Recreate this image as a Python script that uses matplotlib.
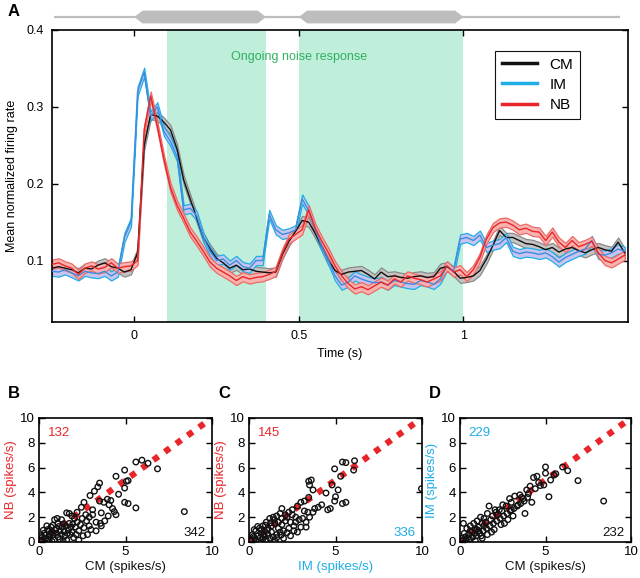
#Recreates the firing-rate figure: PSTH on top (A) and three scatter comparisons below (B, C, D)

import numpy as np
import matplotlib
matplotlib.use("Agg")
import matplotlib.pyplot as plt
from matplotlib.patches import Polygon

plt.rcParams['font.family'] = ['Liberation Sans', 'DejaVu Sans']

#region DATA

#Time bins (s) of the mean normalized firing rate, 20 ms apart
timeBins = np.round(np.arange(-0.25, 1.50, 0.02), 2)

cmRate = [0.090, 0.092, 0.090, 0.088, 0.084, 0.090, 0.089, 0.094, 0.097, 0.092, 0.090, 0.085, 0.088,
          0.110, 0.250, 0.290, 0.288, 0.280, 0.270, 0.245, 0.205, 0.180, 0.155, 0.130, 0.115, 0.103,
          0.097, 0.090, 0.094, 0.088, 0.089, 0.086, 0.085, 0.084, 0.085, 0.108, 0.125, 0.138, 0.152,
          0.150, 0.135, 0.118, 0.100, 0.087, 0.082, 0.085, 0.086, 0.087, 0.082, 0.076, 0.085, 0.079,
          0.080, 0.078, 0.077, 0.079, 0.080, 0.078, 0.079, 0.090, 0.092, 0.086, 0.077, 0.078, 0.080,
          0.087, 0.102, 0.120, 0.139, 0.130, 0.130, 0.126, 0.122, 0.121, 0.118, 0.114, 0.117, 0.111,
          0.115, 0.117, 0.113, 0.110, 0.114, 0.117, 0.114, 0.112, 0.124, 0.110]
imRate = [0.086, 0.085, 0.088, 0.084, 0.080, 0.086, 0.084, 0.083, 0.086, 0.080, 0.085, 0.130, 0.150,
          0.320, 0.345, 0.288, 0.300, 0.268, 0.255, 0.235, 0.166, 0.168, 0.158, 0.130, 0.112, 0.100,
          0.102, 0.094, 0.100, 0.092, 0.090, 0.100, 0.100, 0.160, 0.140, 0.134, 0.136, 0.140, 0.180,
          0.165, 0.140, 0.118, 0.100, 0.080, 0.068, 0.072, 0.080, 0.076, 0.073, 0.071, 0.072, 0.068,
          0.074, 0.072, 0.070, 0.069, 0.074, 0.072, 0.069, 0.076, 0.093, 0.086, 0.128, 0.130, 0.126,
          0.133, 0.117, 0.120, 0.122, 0.130, 0.112, 0.109, 0.111, 0.110, 0.108, 0.110, 0.105, 0.098,
          0.104, 0.108, 0.112, 0.115, 0.126, 0.108, 0.107, 0.110, 0.115, 0.112]
nbRate = [0.095, 0.097, 0.093, 0.090, 0.082, 0.090, 0.093, 0.089, 0.091, 0.097, 0.090, 0.092, 0.093,
          0.100, 0.270, 0.314, 0.275, 0.232, 0.195, 0.172, 0.155, 0.137, 0.125, 0.112, 0.098, 0.090,
          0.085, 0.080, 0.074, 0.079, 0.076, 0.078, 0.079, 0.082, 0.086, 0.110, 0.128, 0.134, 0.140,
          0.166, 0.142, 0.125, 0.110, 0.093, 0.080, 0.070, 0.063, 0.066, 0.062, 0.067, 0.072, 0.068,
          0.076, 0.072, 0.080, 0.077, 0.075, 0.072, 0.076, 0.080, 0.093, 0.085, 0.088, 0.079, 0.088,
          0.104, 0.128, 0.143, 0.149, 0.150, 0.146, 0.140, 0.142, 0.138, 0.137, 0.126, 0.137, 0.124,
          0.117, 0.126, 0.118, 0.121, 0.125, 0.110, 0.100, 0.097, 0.102, 0.107]
semWidth = 0.006 #Half width of the shaded error band

responseWindows = [(0.1, 0.4), (0.5, 1.0)] #Green "ongoing noise" windows (s)
stimulusBlocks = [(0.0, 0.4), (0.5, 1.0)] #Gray noise blocks drawn above panel A

#Scatter panels: (x, y) firing rates in spikes/s
cmVsNb = [(8.4,2.45),(6.85,5.9),(6.3,6.35),(5.95,6.6),(5.6,6.45),(5.15,4.95),(5.05,4.9),(4.95,5.8),(4.45,5.3),
          (4.95,4.35),(4.6,3.85),(4.95,3.2),(5.15,3.1),(5.6,2.75),(4.45,2.2),(4.35,2.45),(4.25,2.7),(4.15,3.35),
          (4.05,3.0),(3.95,3.45),(3.75,3.2),(3.5,3.3),(3.5,4.75),(3.4,4.45),(3.2,4.1),(2.95,3.75),(2.6,3.2),
          (3.6,2.35),(3.55,1.5),(3.6,1.3),(3.3,1.6),(2.9,2.0),(2.75,1.7),(3.1,2.6),(2.45,2.8),(2.2,2.4),
          (2.05,1.9),(1.9,2.1),(1.6,2.35),(1.75,2.3),(1.3,1.8),(1.4,1.45),(1.1,1.5),(2.4,1.4),(2.6,1.15),
          (2.3,0.9),(2.1,1.2),(1.9,0.8),(1.7,1.0),(1.5,0.5),(1.6,0.15),(2.0,0.35),(1.8,0.6),(1.2,0.2),
          (1.0,1.1),(0.8,1.35),(0.7,1.2),(0.6,0.9),(0.5,1.0),(0.3,0.7),(0.2,0.4),(0.15,0.15),(0.4,0.3),
          (0.6,0.45),(0.8,0.6),(1.0,0.7),(1.2,0.9),(1.35,1.2),(1.55,1.3),(1.75,1.5),(0.9,0.15),(0.5,0.05),
          (0.35,0.55),(0.25,0.95),(0.7,0.75),(1.1,0.4),(1.3,0.6),(1.45,0.85),(1.65,0.7),(1.95,1.45),(2.2,1.6),
          (2.5,1.9),(2.7,2.2),(2.9,1.3),(3.0,1.0),(2.8,0.6),(3.1,2.2),(1.05,1.9),(0.9,1.8),(0.45,1.3),
          (0.55,0.2),(0.75,0.05),(2.3,0.15),(1.4,0.05),(0.1,0.5),(0.05,0.1),(1.15,1.25),(0.95,0.95),(0.65,0.6),
          (1.85,1.2),(2.15,0.6),(2.55,0.5),(3.3,0.9),(3.8,1.7),(4.0,2.1)]
imVsNb = [(9.97,4.3),(6.1,6.55),(5.6,6.4),(5.4,6.45),(6.05,5.8),(4.95,5.9),(5.3,5.3),(4.8,4.6),(5.15,4.2),
          (5.0,3.65),(4.95,3.3),(5.4,3.1),(5.6,3.2),(4.7,2.7),(4.55,2.6),(4.45,3.95),(4.2,3.0),(4.0,2.8),
          (3.6,5.0),(3.45,4.9),(3.5,4.6),(3.7,4.2),(3.8,2.7),(3.7,2.4),(3.45,3.6),(3.2,3.3),(3.0,3.2),
          (2.8,2.9),(3.2,2.5),(3.4,2.4),(3.3,1.6),(2.9,1.8),(2.7,2.0),(2.5,2.6),(2.3,2.4),(2.1,2.2),
          (1.9,2.7),(1.8,2.3),(1.6,2.1),(1.4,2.0),(1.2,1.9),(1.0,1.6),(0.8,1.3),(0.6,1.1),(0.4,0.9),
          (0.2,0.6),(0.15,0.2),(0.3,0.35),(0.5,0.5),(0.7,0.7),(0.9,0.9),(1.1,1.1),(1.3,1.3),(1.5,1.5),
          (1.7,1.6),(1.9,1.4),(2.1,1.7),(2.4,1.6),(2.6,1.3),(2.3,1.1),(2.0,0.9),(1.8,0.8),(1.6,0.6),
          (1.4,0.4),(1.2,0.3),(1.0,0.15),(0.8,0.25),(0.6,0.05),(0.4,0.15),(1.5,0.1),(2.0,0.3),(2.4,0.5),
          (2.8,0.8),(3.0,1.2),(2.7,1.6),(1.1,0.6),(1.3,0.8),(0.9,0.45),(0.7,1.0),(0.5,1.25),(0.3,1.0),
          (1.7,1.1),(1.9,1.9),(2.2,2.0),(1.45,1.8),(1.25,1.55),(0.95,1.35),(2.5,2.2),(2.6,0.9),(3.1,1.9),
          (3.5,2.0),(1.05,0.95),(0.85,0.6),(0.25,0.45),(0.1,0.1),(0.65,0.35),(1.6,0.35),(1.85,0.55),
          (2.2,0.75),(3.3,1.2)]
cmVsIm = [(8.4,3.3),(6.9,4.95),(6.3,5.75),(6.0,6.05),(5.6,5.5),(5.5,5.4),(5.3,5.0),(5.0,6.05),(5.0,5.55),
          (5.2,3.65),(4.9,4.6),(4.7,4.55),(4.6,4.8),(4.5,5.3),(4.3,5.2),(4.1,4.5),(4.2,3.2),(3.9,4.2),
          (3.8,2.3),(3.7,3.5),(3.5,3.8),(3.4,3.0),(3.2,3.7),(3.0,3.2),(2.9,3.5),(2.7,2.9),(2.5,3.0),
          (2.3,2.6),(2.1,2.4),(1.9,2.1),(1.7,2.9),(1.6,2.3),(1.4,1.9),(1.3,1.5),(1.1,1.2),(0.9,1.0),
          (0.7,0.8),(0.5,0.6),(0.3,0.4),(0.2,1.5),(0.4,1.1),(0.6,1.3),(0.8,1.5),(1.0,1.7),(1.2,2.0),
          (0.15,0.1),(0.35,0.15),(0.55,0.25),(0.75,0.4),(0.95,0.5),(1.15,0.7),(1.35,0.9),(1.55,1.1),
          (1.75,1.3),(1.95,1.5),(2.15,1.7),(2.35,1.9),(2.55,2.1),(2.75,2.3),(2.95,2.5),(3.15,2.7),(3.35,2.9),
          (3.55,3.1),(3.75,3.3),(3.95,3.6),(1.6,0.6),(2.0,1.0),(2.4,1.4),(2.8,1.8),(1.3,0.3),(0.9,0.1),
          (2.6,1.5),(3.1,2.1),(0.6,0.9),(1.0,1.0),(1.4,1.3),(1.8,1.8),(2.2,2.2),(0.25,0.7),(1.25,0.5),
          (1.85,0.8),(3.0,2.6),(3.6,3.6),(4.0,3.9),(4.4,4.3),(1.5,1.6),(1.1,0.9),(0.85,0.7),(0.45,0.35),
          (2.05,2.6),(2.45,2.5),(0.1,0.3)]

#endregion

#region STYLE

black = "#111111"
cyan = "#1eaee6"
red = "#e8262a"
green = "#30b060"

fig = plt.figure(figsize=(6.4, 5.78), dpi=100)

def figRect(left, top, right, bottom): #Pixel box -> figure fraction rect
    return [left/640, 1 - bottom/578, (right - left)/640, (bottom - top)/578]

#endregion

#region PANEL A

ax = fig.add_axes(figRect(52, 30, 628, 322))
for start, end in responseWindows:
    ax.axvspan(start, end, color="#bfeedb", lw=0, zorder=0)

series = [(cmRate, black, "#c4c4c4", "#8a8a8a", black, "CM"),
          (imRate, cyan, "#c7c4ef", cyan, "#3d8ce0", "IM"),
          (nbRate, red, "#f6b3b0", "#ee6a66", red, "NB")]
for rate, lineColor, fillColor, edgeColor, meanColor, name in series:
    rate = np.array(rate)
    ax.fill_between(timeBins, rate - semWidth, rate + semWidth, facecolor=fillColor,
                    edgecolor=edgeColor, lw=0.9, zorder=2)
    ax.plot(timeBins, rate, color=meanColor, lw=1.0, zorder=3)
    ax.plot([], [], color=lineColor, lw=2.5, label=name) #Legend handle

ax.set_xlim(-0.25, 1.5)
ax.set_ylim(0.02, 0.4)
ax.set_xticks([0, 0.5, 1])
ax.set_xticklabels(["0", "0.5", "1"])
ax.set_yticks([0.1, 0.2, 0.3, 0.4])
ax.set_yticklabels(["0.1", "0.2", "0.3", "0.4"])
ax.tick_params(direction="in", top=True, right=True, labelsize=9, length=4, width=1, pad=6)
for spine in ax.spines.values():
    spine.set_linewidth(1.2)
ax.set_xlabel("Time (s)", fontsize=9, labelpad=4)
ax.set_ylabel("Mean normalized firing rate", fontsize=9, labelpad=6)
ax.text(0.5, 0.365, "Ongoing noise response", color=green, fontsize=9, ha="center", va="center")
leg = ax.legend(loc="upper right", bbox_to_anchor=(0.93, 0.955), fontsize=11, handlelength=2.3,
                fancybox=False, edgecolor=black, framealpha=1, borderpad=0.45, labelspacing=0.4)
leg.get_frame().set_linewidth(0.8)

#Stimulus bar above panel A
barAx = fig.add_axes(figRect(52, 9, 628, 25))
barAx.set_xlim(-0.25, 1.5)
barAx.set_ylim(-1, 1)
barAx.axis("off")
barAx.plot([-0.245, 1.475], [0, 0], color="#bdbdbd", lw=1.6, solid_capstyle="butt")
for start, end in stimulusBlocks:
    tip = 0.025
    barAx.add_patch(Polygon([(start, 0), (start + tip, 0.8), (end - tip, 0.8), (end, 0),
                             (end - tip, -0.8), (start + tip, -0.8)], closed=True,
                            facecolor="#bdbdbd", edgecolor="none"))

fig.text(8/640, 1 - 12/578, "A", fontsize=12, fontweight="bold", va="center")

#endregion

#region PANELS B-D

panels = [("B", 39, 212, cmVsNb, ("CM (spikes/s)", black), ("NB (spikes/s)", red), ("132", red), ("342", black)),
          ("C", 249, 422, imVsNb, ("IM (spikes/s)", cyan), ("NB (spikes/s)", red), ("145", red), ("336", cyan)),
          ("D", 460, 631, cmVsIm, ("CM (spikes/s)", black), ("IM (spikes/s)", cyan), ("229", cyan), ("232", black))]
for letter, left, right, points, xLab, yLab, topCount, bottomCount in panels:
    sax = fig.add_axes(figRect(left, 418, right, 542))
    xs = [p[0] for p in points]
    ys = [p[1] for p in points]
    sax.plot([0, 10], [0, 10], color=red, lw=4.5, linestyle=(0, (1, 1.25)), zorder=1)
    sax.scatter(xs, ys, s=16, facecolors="none", edgecolors=black, linewidths=1.0, zorder=2, clip_on=True)
    sax.set_xlim(0, 10)
    sax.set_ylim(0, 10)
    sax.set_xticks([0, 5, 10])
    sax.set_yticks([0, 2, 4, 6, 8, 10])
    sax.tick_params(direction="in", top=True, right=True, labelsize=9.5, length=4, width=1, pad=3)
    for spine in sax.spines.values():
        spine.set_linewidth(1.2)
    sax.set_xlabel(xLab[0], color=xLab[1], fontsize=9.5, labelpad=2)
    sax.set_ylabel(yLab[0], color=yLab[1], fontsize=9.5, labelpad=2)
    sax.text(0.5, 8.8, topCount[0], color=topCount[1], fontsize=9.5, ha="left", va="center")
    sax.text(9.6, 0.75, bottomCount[0], color=bottomCount[1], fontsize=9.5, ha="right", va="center")
    fig.text((left - 31)/640, 1 - 393/578, letter, fontsize=12, fontweight="bold", va="center")

#endregion

fig.savefig("out.png", dpi=100)
